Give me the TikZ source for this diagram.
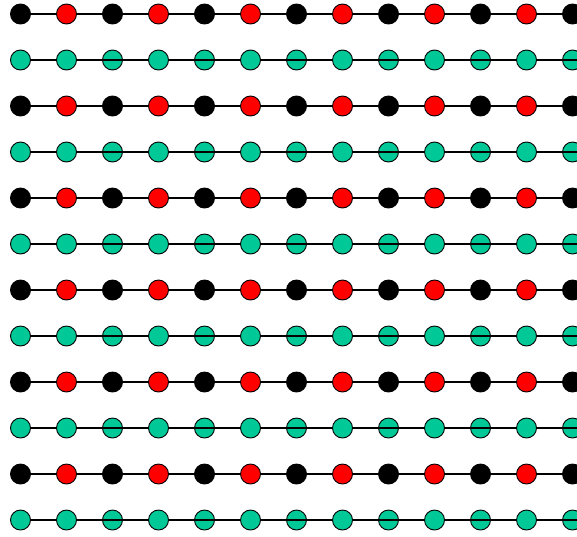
\documentclass[tikz,border=0pt]{standalone}
\begin{document}
\begin{tikzpicture}[x=1pt,y=-1pt,
  bond/.style={line width=1.6pt,black},
  ball/.style={circle,draw=black,line width=0.9pt,minimum size=20pt,inner sep=0pt},
  redball/.style={ball,fill=red},
  blackball/.style={ball,fill=black},
  tealball/.style={ball,fill=tealc}]
\definecolor{tealc}{RGB}{0,200,150}
\useasboundingbox (0,0) rectangle (577,536);
\foreach \r in {0,...,11}{
  \pgfmathsetmacro{\yy}{14+46*\r}
  \coordinate (e\r) at (580,\yy);
  \draw[bond] (20.5,\yy) coordinate (s\r) -- (e\r);
  \foreach \c in {0,...,12}{
    \pgfmathsetmacro{\xx}{20.5+46*\c}
    \ifodd\r
      \node[tealball] (n\r-\c) at (\xx,\yy) {};
    \else
      \ifodd\c
        \node[redball] (n\r-\c) at (\xx,\yy) {};
      \else
        \node[blackball] (n\r-\c) at (\xx,\yy) {};
      \fi
    \fi
  }
  \ifodd\r
    \foreach \c in {2,4,...,12}{
      \draw[bond] (n\r-\c.west) -- (n\r-\c.east);
    }
  \fi
}
\end{tikzpicture}
\end{document}
